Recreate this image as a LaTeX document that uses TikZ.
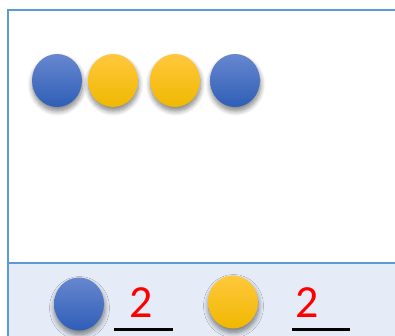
\documentclass[tikz,border=0pt]{standalone}
\usepackage{fontspec}
\setmainfont{Carlito}
\usetikzlibrary{shadows.blur,shapes.geometric}
\definecolor{frameblue}{HTML}{5B9BD5}
\definecolor{panelfill}{HTML}{E6ECF7}
\definecolor{bluetop}{HTML}{6787CF}
\definecolor{bluemid}{HTML}{4472C4}
\definecolor{bluebot}{HTML}{2F5EB7}
\definecolor{yeltop}{HTML}{FFC83D}
\definecolor{yelmid}{HTML}{FFC400}
\definecolor{yelbot}{HTML}{F0B800}
\begin{document}
\begin{tikzpicture}[x=1pt,y=-1pt,
  bead/.style={ellipse, minimum width=50pt, minimum height=53pt, inner sep=0pt,
    blur shadow={shadow xshift=0.5pt, shadow yshift=-4pt, shadow blur radius=5pt,
      shadow blur steps=8, shadow opacity=50}},
  bluebead/.style={bead, top color=bluetop, middle color=bluemid, bottom color=bluebot},
  yellowbead/.style={bead, top color=yeltop, middle color=yelmid, bottom color=yelbot},
  count/.style={text=red, font=\fontsize{46}{46}\selectfont, inner sep=0pt, anchor=base},
  blank/.style={line width=3pt, black}]
\useasboundingbox (0,0) rectangle (395,335);
% bottom panel
\fill[panelfill] (8,263) rectangle (400,340);
% frame
\draw[frameblue, line width=2pt] (8,340) -- (8,10) -- (400,10);
\draw[frameblue, line width=1.5pt] (8,263) -- (400,263);
% top row
\node[bluebead]   (b1) at (57,80.5) {};
\node[yellowbead] (y1) at (113,80.5) {};
\node[yellowbead] (y2) at (175,80.5) {};
\node[bluebead]   (b2) at (235,80.5) {};
% bottom legend
\node[bluebead]   (lb) at (79,304) {};
\node[yellowbead] (ly) at (233,302) {};
\node[count] (n1) at (141,317) {2};
\node[count] (n2) at (307,317) {2};
\coordinate (u1a) at (114,329); \coordinate (u1b) at (173,329);
\coordinate (u2a) at (292,329); \coordinate (u2b) at (350,329);
\draw[blank] (u1a) -- (u1b);
\draw[blank] (u2a) -- (u2b);
\end{tikzpicture}
\end{document}
